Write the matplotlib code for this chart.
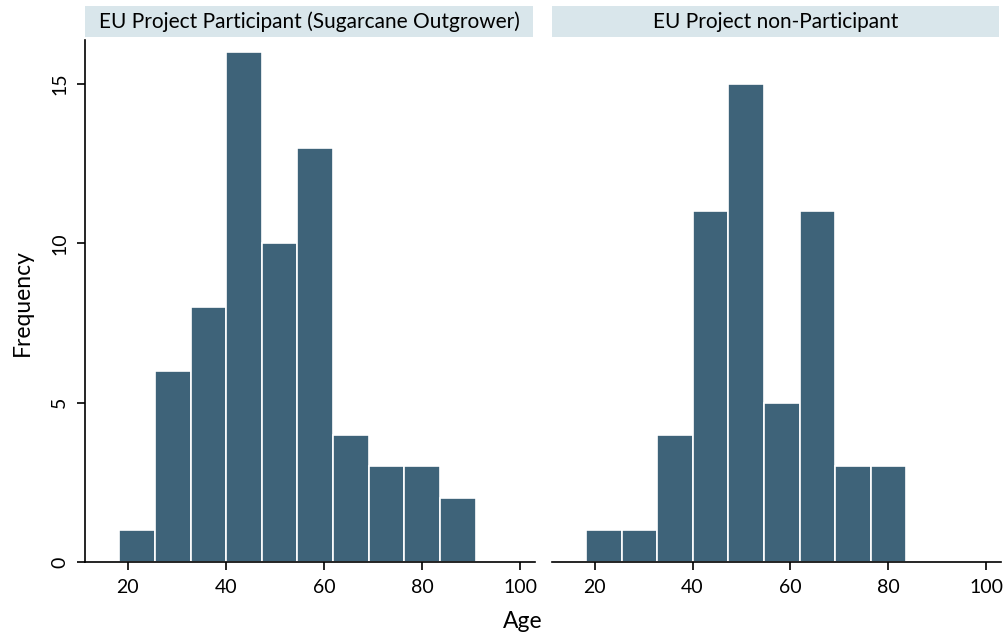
import numpy as np
import matplotlib.pyplot as plt
from matplotlib.patches import Rectangle

plt.rcParams['font.family'] = ['Lato', 'DejaVu Sans']

# histogram bins (age), 10 equal-width bins from 18.3 to 90.9
bin_edges = np.linspace(18.3, 90.9, 11)

panel_titles = ['EU Project Participant (Sugarcane Outgrower)', 'EU Project non-Participant']
participant_counts = [1, 6, 8, 16, 10, 13, 4, 3, 3, 2]
nonparticipant_counts = [1, 1, 4, 11, 15, 5, 11, 3, 3, 0]

x_ticks = [20, 40, 60, 80, 100]
y_ticks = [0, 5, 10, 15]

bar_color = '#3e6379'
strip_color = '#d9e6eb'

W, H = 1006, 638
fig = plt.figure(figsize=(W / 100, H / 100), dpi=100)

# panel extents in pixels: (left, right)
panels = [(85, 535), (552, 1001)]
top, bottom = 40, 562

for i, ((l, r), counts) in enumerate(zip(panels, [participant_counts, nonparticipant_counts])):
    ax = fig.add_axes([l / W, 1 - bottom / H, (r - l) / W, (bottom - top) / H])
    widths = np.diff(bin_edges)
    ax.bar(bin_edges[:-1], counts, width=widths, align='edge',
           color=bar_color, edgecolor='white', linewidth=1.2)
    ax.set_xlim(11.3, 103.0)
    ax.set_ylim(0, 16.38)
    ax.set_xticks(x_ticks)
    ax.set_yticks(y_ticks)
    ax.tick_params(axis='x', labelsize=14, length=6, width=1.2, pad=6)
    ax.tick_params(axis='y', labelsize=14, length=6, width=1.2, pad=6,
                   labelrotation=90)
    for lab in ax.get_yticklabels():
        lab.set_va('center')
    for s in ['top', 'right']:
        ax.spines[s].set_visible(False)
    ax.spines['bottom'].set_linewidth(1.2)
    ax.spines['left'].set_linewidth(1.2)
    if i == 1:
        ax.spines['left'].set_visible(False)
        ax.tick_params(axis='y', left=False, labelleft=False)

    # header strip
    fig.patches.append(Rectangle((l / W, 1 - 37 / H), (r - 2 - l) / W, 31 / H,
                                 transform=fig.transFigure, facecolor=strip_color,
                                 edgecolor='none'))
    fig.text((l + r - 2) / 2 / W, 1 - 21.5 / H, panel_titles[i],
             ha='center', va='center', fontsize=15)

fig.text(22 / W, 1 - 303 / H, 'Frequency', rotation=90, ha='center', va='center', fontsize=16.5)
fig.text(523 / W, 1 - 621 / H, 'Age', ha='center', va='center', fontsize=16.5)

fig.savefig('out.png', dpi=100)
